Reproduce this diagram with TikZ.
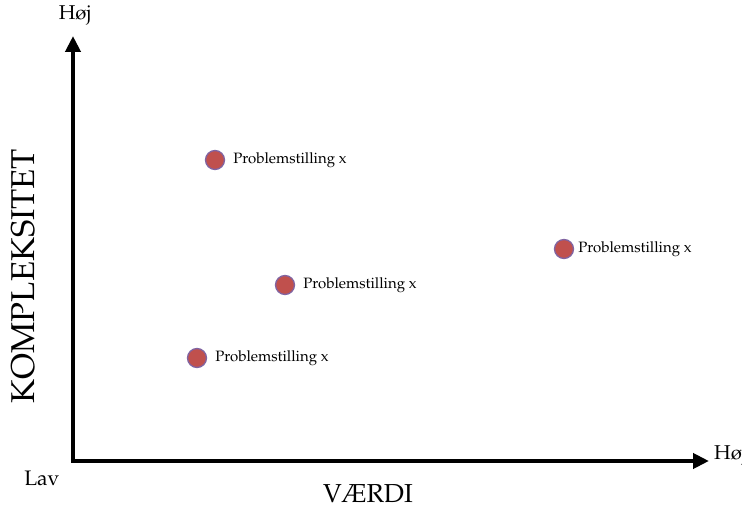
\documentclass[tikz,border=0pt]{standalone}
\usepackage[T1]{fontenc}
\renewcommand\rmdefault{ppl}
\usetikzlibrary{arrows.meta}
\begin{document}
\begin{tikzpicture}[x=1pt,y=-1pt,
  axis/.style={line width=4.5pt,-{Triangle[length=16pt,width=15pt]}},
  issue/.style={circle,fill={rgb,255:red,192;green,80;blue,77},
    draw={rgb,255:red,128;green,100;blue,162},line width=1.3pt,
    minimum size=19pt,inner sep=0pt},
  issuelabel/.style={anchor=west,font=\fontsize{15}{17}\selectfont,inner sep=0pt},
  axislabel/.style={font=\fontsize{20}{24}\selectfont,inner sep=0pt}]
\useasboundingbox (0,0) rectangle (742,510);
% axes
\coordinate (origin) at (73,461);
\coordinate (ytip) at (73,36);
\coordinate (xtip) at (709,461);
\draw[axis] (origin) -- (ytip);
\draw[axis] ([xshift=-2.25pt]origin) -- (xtip);
% axis texts
\node[axislabel] (yhigh) at (75,15) {H\o j};
\node[axislabel,anchor=west] (xhigh) at (714,455) {H\o j};
\node[font=\fontsize{21}{25}\selectfont,inner sep=0pt] (low) at (42,478) {Lav};
\node[font=\fontsize{26}{30}\selectfont,inner sep=0pt] (xname) at (368,494) {V\AE RDI};
\node[font=\fontsize{33}{37}\selectfont,inner sep=0pt,rotate=90] (yname) at (23,276) {KOMPLEKSITET};
% issues
\node[issue] (p1) at (215,160) {};
\node[issuelabel] (l1) at ([xshift=8pt]p1.east) {Problemstilling x};
\node[issue] (p2) at (564,249) {};
\node[issuelabel] (l2) at ([xshift=4pt]p2.east) {Problemstilling x};
\node[issue] (p3) at (285,285) {};
\node[issuelabel] (l3) at ([xshift=8pt]p3.east) {Problemstilling x};
\node[issue] (p4) at (197,358) {};
\node[issuelabel] (l4) at ([xshift=8pt]p4.east) {Problemstilling x};
\end{tikzpicture}
\end{document}
